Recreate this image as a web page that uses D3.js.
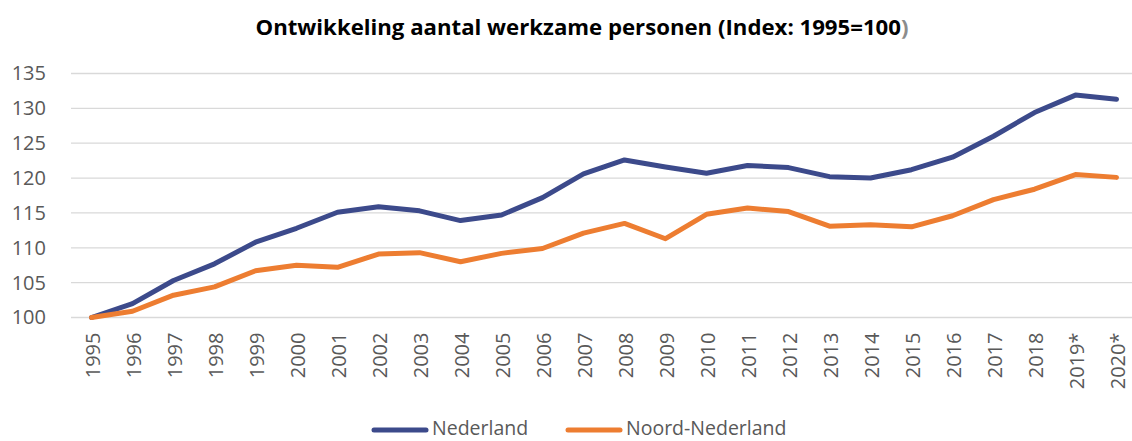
<!DOCTYPE html>
<html>
<head>
<meta charset="utf-8">
<script src="https://cdn.jsdelivr.net/npm/d3@7"></script>
<style>
  body { margin: 0; background: #fff; }
  text { font-family: "Open Sans", "Noto Sans", sans-serif; }
</style>
</head>
<body>
<svg id="chart" width="1132" height="441"></svg>
<script>
const years = ["1995","1996","1997","1998","1999","2000","2001","2002","2003","2004","2005","2006","2007",
  "2008","2009","2010","2011","2012","2013","2014","2015","2016","2017","2018","2019*","2020*"];
const nederland = [100, 102.0, 105.3, 107.7, 110.8, 112.8, 115.1, 115.9, 115.3, 113.9, 114.7, 117.2, 120.6,
  122.6, 121.6, 120.7, 121.8, 121.5, 120.2, 120.0, 121.2, 123.0, 126.0, 129.4, 131.9, 131.3];
const noordNederland = [100, 100.9, 103.2, 104.4, 106.7, 107.5, 107.2, 109.1, 109.3, 108.0, 109.2, 109.9, 112.1,
  113.5, 111.3, 114.8, 115.7, 115.2, 113.1, 113.3, 113.0, 114.6, 116.9, 118.4, 120.5, 120.1];
const yTicks = [100, 105, 110, 115, 120, 125, 130, 135];

const series = [
  {name: "Nederland", values: nederland, color: "#3c4a8b"},
  {name: "Noord-Nederland", values: noordNederland, color: "#ed7d31"}
];

const svg = d3.select("#chart");
const plotLeft = 71, plotRight = 1137, plotTop = 73.5, plotBottom = 317.5;

const x = d3.scaleBand().domain(years).range([plotLeft, plotRight]);
const y = d3.scaleLinear().domain([100, 135]).range([plotBottom, plotTop]);

// title (closing paren is grey in the original)
const title = svg.append("text")
  .attr("x", 582).attr("y", 35)
  .attr("text-anchor", "middle")
  .attr("font-size", "22.2px").attr("font-weight", "bold")
  .attr("fill", "#000");
title.append("tspan").text("Ontwikkeling aantal werkzame personen (Index: 1995=100");
title.append("tspan").attr("fill", "#8c8c8c").text(")");

// gridlines
svg.append("g")
  .selectAll("line").data(yTicks).join("line")
  .attr("x1", plotLeft).attr("x2", plotRight)
  .attr("y1", d => y(d)).attr("y2", d => y(d))
  .attr("stroke", "#d9d9d9").attr("stroke-width", 1.3);

// y axis
const yAxis = svg.append("g")
  .attr("transform", `translate(${plotLeft - 25},0)`)
  .call(d3.axisLeft(y).tickValues(yTicks).tickSize(0).tickPadding(0));
yAxis.select(".domain").remove();
yAxis.selectAll("text")
  .attr("font-size", "20px").attr("fill", "#595959")
  .attr("font-family", "'Open Sans', sans-serif");

// x axis
const xAxis = svg.append("g")
  .attr("transform", `translate(0,${plotBottom})`)
  .call(d3.axisBottom(x).tickSize(0).tickPadding(0));
xAxis.select(".domain").remove();
xAxis.selectAll("text")
  .attr("font-size", "20px").attr("fill", "#595959")
  .attr("font-family", "'Open Sans', sans-serif")
  .attr("text-anchor", "end")
  .attr("transform", "rotate(-90)")
  .attr("x", -15).attr("y", 1).attr("dy", "0.35em");

// lines
const line = d3.line()
  .x((d, i) => x(years[i]) + x.bandwidth() / 2)
  .y(d => y(d));

svg.append("g")
  .selectAll("path").data(series).join("path")
  .attr("d", d => line(d.values))
  .attr("fill", "none")
  .attr("stroke", d => d.color)
  .attr("stroke-width", 5)
  .attr("stroke-linejoin", "round")
  .attr("stroke-linecap", "round");

// legend
const legendPos = [374, 568];
const lg = svg.append("g").selectAll("g").data(series).join("g")
  .attr("transform", (d, i) => `translate(${legendPos[i]},430)`);
lg.append("line")
  .attr("x1", 0).attr("x2", 52).attr("y1", 0).attr("y2", 0)
  .attr("stroke", d => d.color).attr("stroke-width", 5).attr("stroke-linecap", "round");
lg.append("text")
  .attr("x", 58).attr("y", 5)
  .attr("font-size", "19.5px").attr("fill", "#595959")
  .text(d => d.name);
</script>
</body>
</html>
